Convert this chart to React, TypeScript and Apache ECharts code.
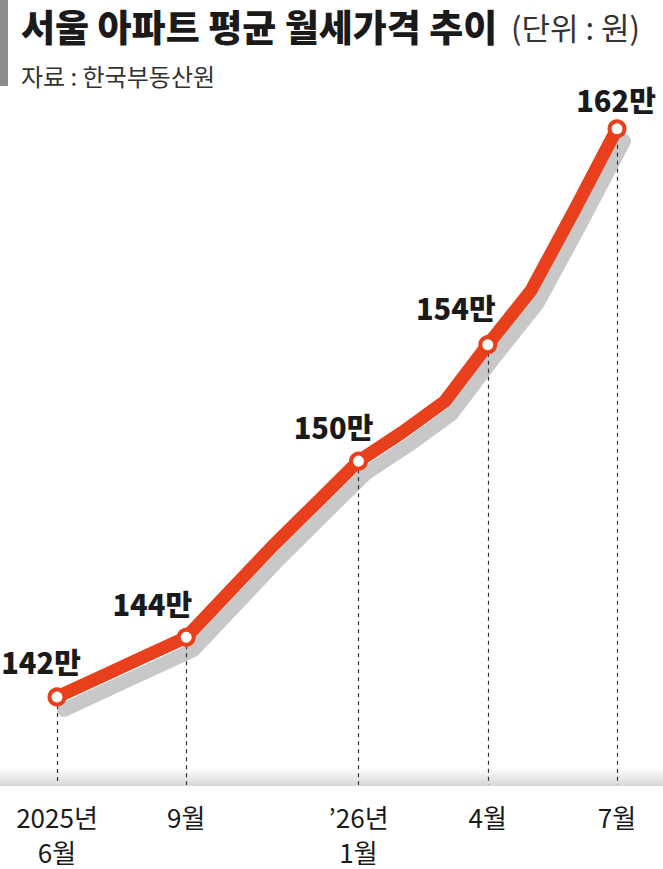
import React, { useEffect, useRef } from "react";
import * as echarts from "echarts";

// ---- data ----
const months = [
  "2025년\n6월", "7월", "8월", "9월", "10월", "11월", "12월",
  "’26년\n1월", "2월", "3월", "4월", "5월", "6월", "7월",
];
const rents = [142.0, 142.7, 143.4, 144.1, 145.7, 147.3, 148.8, 150.3, 151.3, 152.4, 154.4, 156.3, 159.1, 162.0];
const labeledIdx = [0, 3, 7, 10, 13];
const title = "서울 아파트 평균 월세가격 추이";
const unitText = "(단위 : 원)";
const sourceText = "자료 : 한국부동산원";

// ---- style ----
const RED = "#e8401c";
const SHADOW = "#c8c8c8";
const FONT = '"Noto Sans CJK KR", "Noto Sans", sans-serif';
const Y_MIN = 138.9;
const Y_MAX = 164;
const labelOffsets: Record<number, [number, number]> = {
  0: [-16, -36],
  3: [-34, -34],
  7: [-25, -35],
  10: [-32, -38],
  13: [-1, -30],
};

export default function App() {
  const ref = useRef<HTMLDivElement>(null);
  useEffect(() => {
    if (!ref.current) return;
    const chart = echarts.init(ref.current, undefined, { renderer: "svg" });
    const labeledSet = new Set(labeledIdx);
    const mainData = rents.map((v, i) =>
      labeledSet.has(i)
        ? {
            value: v,
            symbol: "circle",
            symbolSize: 15,
            itemStyle: { color: "#ffffff", borderColor: RED, borderWidth: 4 },
            label: {
              show: true,
              position: "inside",
              offset: labelOffsets[i],
              formatter: (p: any) => Math.round(p.value) + "만",
              fontSize: 29,
              fontWeight: 900,
              fontFamily: FONT,
              color: "#1a1a1a",
            },
          }
        : { value: v, symbol: "none" }
    );
    const xAxisBase = {
      type: "category",
      data: months,
      boundaryGap: false,
      axisLine: { show: false },
      axisTick: { show: false },
      splitLine: { show: false },
    };
    const yAxisBase = {
      type: "value",
      min: Y_MIN,
      max: Y_MAX,
      show: false,
      splitLine: { show: false },
    };
    chart.setOption({
      animation: false,
      backgroundColor: "#ffffff",
      grid: [
        { left: 57, right: 46, top: 72, bottom: 83 },
        { left: 64, right: 39, top: 84, bottom: 71 },
      ],
      xAxis: [
        {
          ...xAxisBase,
          gridIndex: 0,
          axisLabel: {
            interval: (idx: number) => labeledSet.has(idx),
            margin: 14,
            fontSize: 26,
            lineHeight: 35,
            fontFamily: FONT,
            color: "#1a1a1a",
            verticalAlign: "top",
          },
        },
        { ...xAxisBase, gridIndex: 1, axisLabel: { show: false } },
      ],
      yAxis: [
        { ...yAxisBase, gridIndex: 0 },
        { ...yAxisBase, gridIndex: 1 },
      ],
      graphic: [
        {
          type: "rect",
          z: 0,
          shape: { x: 0, y: 768, width: 663, height: 18 },
          style: {
            fill: new echarts.graphic.LinearGradient(0, 0, 0, 1, [
              { offset: 0, color: "#ffffff" },
              { offset: 1, color: "#d6d6d6" },
            ]),
          },
        },
        {
          type: "rect",
          shape: { x: 0, y: 0, width: 8, height: 86 },
          style: { fill: "#8c8c8c" },
        },
        {
          type: "text",
          x: 21,
          y: 26,
          style: {
            text: title,
            fontSize: 37,
            fontWeight: 900,
            fontFamily: FONT,
            fill: "#1a1a1a",
            verticalAlign: "middle",
          },
        },
        {
          type: "text",
          x: 511,
          y: 26,
          style: {
            text: unitText,
            fontSize: 31,
            fontFamily: FONT,
            fill: "#333333",
            verticalAlign: "middle",
          },
        },
        {
          type: "text",
          x: 21,
          y: 75,
          style: {
            text: sourceText,
            fontSize: 24,
            fontFamily: FONT,
            fill: "#333333",
            verticalAlign: "middle",
          },
        },
      ],
      series: [
        {
          type: "line",
          xAxisIndex: 1,
          yAxisIndex: 1,
          data: rents,
          symbol: "none",
          silent: true,
          z: 1,
          lineStyle: { color: SHADOW, width: 14, cap: "round", join: "round" },
        },
        {
          type: "line",
          xAxisIndex: 0,
          yAxisIndex: 0,
          data: rents,
          symbol: "none",
          silent: true,
          z: 2,
          lineStyle: { opacity: 0, width: 0 },
          markLine: {
            silent: true,
            z: 2,
            symbol: ["none", "none"],
            label: { show: false },
            lineStyle: { type: [4, 4], color: "#333333", width: 1.2 },
            data: labeledIdx.map((i) => [
              { coord: [i, rents[i]] },
              { coord: [i, Y_MIN] },
            ]),
          },
        },
        {
          type: "line",
          xAxisIndex: 0,
          yAxisIndex: 0,
          data: mainData,
          z: 3,
          symbol: "circle",
          symbolSize: 15,
          showAllSymbol: true,
          lineStyle: { color: RED, width: 13, cap: "round", join: "round" },
          itemStyle: { color: "#ffffff", borderColor: RED, borderWidth: 4 },
        },
      ],
    });
    return () => chart.dispose();
  }, []);
  return (
    <div
      ref={ref}
      style={{ position: "fixed", left: 0, top: 0, width: 663, height: 869, background: "#fff" }}
    />
  );
}
